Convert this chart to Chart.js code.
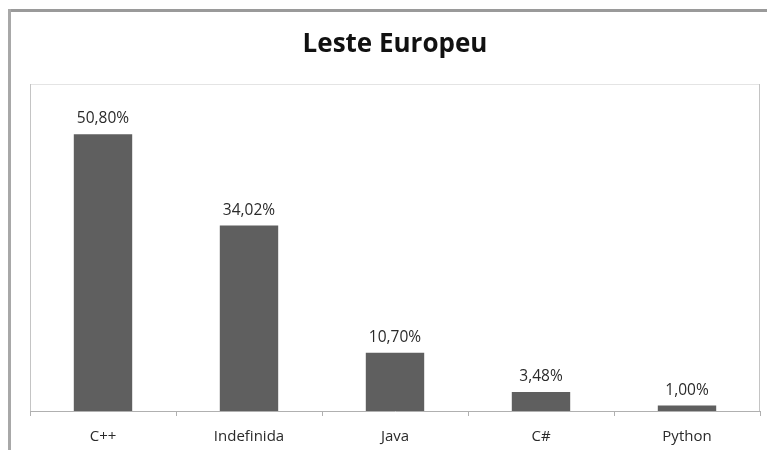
<!DOCTYPE html>
<html>
<head>
<meta charset="utf-8">
<script src="https://cdn.jsdelivr.net/npm/chart.js@4.4.1/dist/chart.umd.min.js"></script>
<style>
  html, body { margin: 0; padding: 0; background: #fff; overflow: hidden; }
  #wrap { position: relative; width: 767px; height: 450px; overflow: hidden; }
  .edge { position: absolute; pointer-events: none; }
  #edgeTop { left: 8px; top: 9px; width: 759px; height: 3px; background: #9a9a9a; }
  #edgeLeft { left: 8px; top: 9px; width: 3px; height: 441px; background: #a8a8a8; }
  canvas { position: absolute; left: 0; top: 0; }
</style>
</head>
<body>
<div id="wrap">
  <canvas id="LanguageChart" width="767" height="450"></canvas>
  <div class="edge" id="edgeTop"></div>
  <div class="edge" id="edgeLeft"></div>
</div>
<script>
var Languages = ['C++', 'Indefinida', 'Java', 'C#', 'Python'];
var Shares = [50.80, 34.02, 10.70, 3.48, 1.00];
var MaxShare = 60;

function FormatShare(v) {
    return v.toFixed(2).replace('.', ',') + '%';
}

// light border round the plot area (top, left and right)
var PlotBorder = {
    id: 'plotBorder',
    beforeDatasetsDraw: function (chart) {
        var a = chart.chartArea, ctx = chart.ctx;
        ctx.save();
        ctx.lineWidth = 1;
        ctx.strokeStyle = '#e4e4e4';
        ctx.beginPath();
        ctx.moveTo(a.left + 0.5, a.top + 0.5);
        ctx.lineTo(a.right - 0.5, a.top + 0.5);
        ctx.stroke();
        ctx.strokeStyle = '#c4c4c4';
        ctx.beginPath();
        ctx.moveTo(a.left + 0.5, a.top);
        ctx.lineTo(a.left + 0.5, a.bottom);
        ctx.moveTo(a.right - 0.5, a.top);
        ctx.lineTo(a.right - 0.5, a.bottom);
        ctx.stroke();
        ctx.restore();
    }
};

// percentage above each bar
var ValueLabels = {
    id: 'valueLabels',
    afterDatasetsDraw: function (chart) {
        var ctx = chart.ctx;
        var meta = chart.getDatasetMeta(0);
        ctx.save();
        ctx.font = '15.5px "Open Sans"';
        ctx.fillStyle = '#2a2a2a';
        ctx.textAlign = 'center';
        ctx.textBaseline = 'alphabetic';
        meta.data.forEach(function (bar, i) {
            ctx.fillText(FormatShare(Shares[i]), bar.x, bar.y - 11);
        });
        ctx.restore();
    }
};

var ctx = document.getElementById('LanguageChart').getContext('2d');
new Chart(ctx, {
    type: 'bar',
    data: {
        labels: Languages,
        datasets: [{
            data: Shares,
            backgroundColor: '#5f5f5f',
            borderWidth: 0,
            categoryPercentage: 1,
            barPercentage: 0.4
        }]
    },
    options: {
        responsive: false,
        animation: false,
        layout: { padding: { left: 30, right: 7, top: 0, bottom: 0 } },
        plugins: {
            legend: { display: false },
            tooltip: { enabled: false },
            title: {
                display: true,
                text: 'Leste Europeu',
                color: '#111',
                font: { family: '"Open Sans"', size: 26, weight: 'bold', lineHeight: 1.2 },
                padding: { top: 29, bottom: 23.8 }
            }
        },
        scales: {
            x: {
                grid: { offset: true, drawOnChartArea: false, tickLength: 5, color: '#b0b0b0' },
                border: { color: '#b0b0b0', width: 1 },
                ticks: { color: '#2a2a2a', padding: 12, font: { family: '"Open Sans"', size: 15 } },
                afterFit: function (scale) { scale.height = 39; }
            },
            y: { display: false, min: 0, max: MaxShare }
        }
    },
    plugins: [PlotBorder, ValueLabels]
});
</script>
</body>
</html>
